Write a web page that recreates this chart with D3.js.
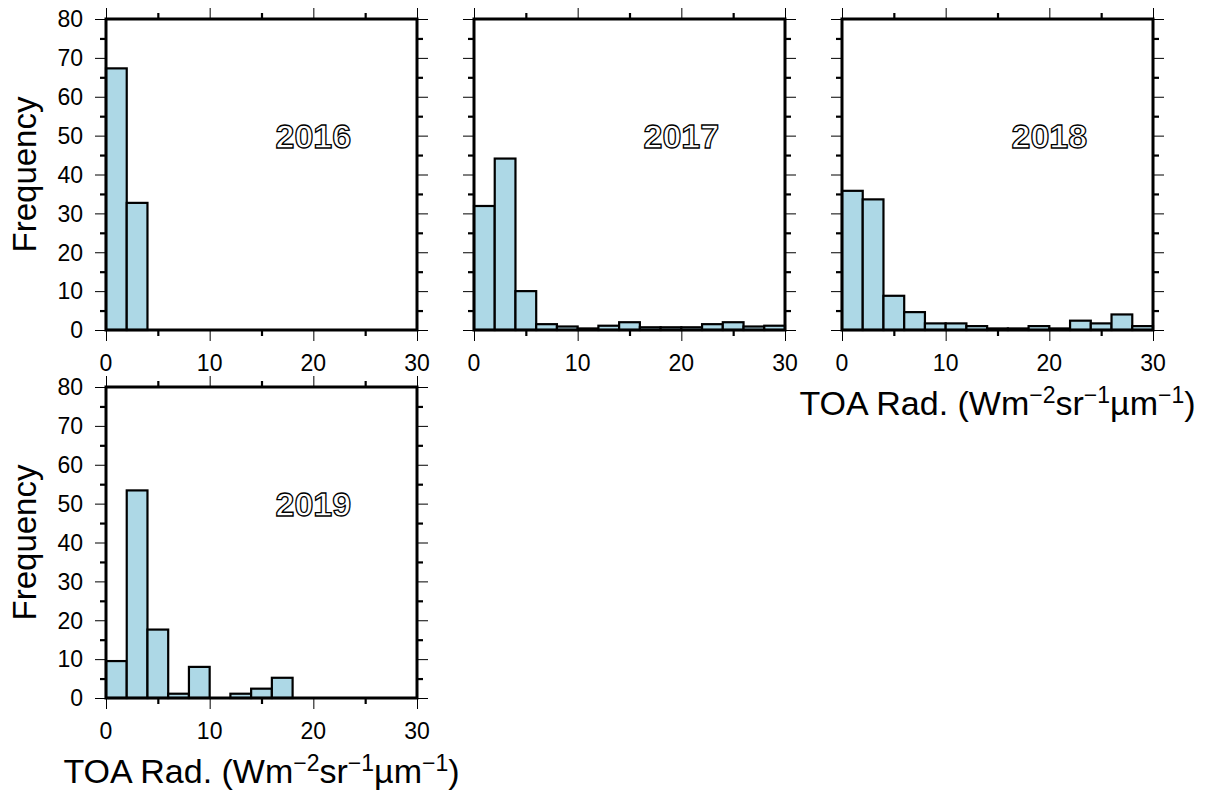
<!DOCTYPE html>
<html>
<head>
<meta charset="utf-8">
<script src="https://cdn.jsdelivr.net/npm/d3@7"></script>
<style>
  body { margin: 0; background: #fff; }
  svg { display: block; font-family: "Liberation Sans", Arial, sans-serif; }
</style>
</head>
<body>
<div id="chart"></div>
<script>
// histogram data (percent of pixels per 2-unit bin)
var years = ['2016', '2017', '2018', '2019']
var binStarts = [0, 2, 4, 6, 8, 10, 12, 14, 16, 18, 20, 22, 24, 26, 28]
var binWidth = 2
var freq2016 = [67.3, 32.7, 0, 0, 0, 0, 0, 0, 0, 0, 0, 0, 0, 0, 0]
var freq2017 = [31.9, 44.1, 10.0, 1.5, 0.9, 0.4, 1.1, 2.0, 0.7, 0.7, 0.7, 1.5, 2.0, 0.9, 1.1]
var freq2018 = [35.8, 33.6, 8.8, 4.6, 1.7, 1.7, 1.0, 0.4, 0.4, 1.0, 0.4, 2.4, 1.7, 4.0, 1.0]
var freq2019 = [9.5, 53.4, 17.6, 1.1, 8.0, 0, 1.1, 2.4, 5.2, 0, 0, 0, 0, 0, 0]
var series = [freq2016, freq2017, freq2018, freq2019]

var xMajor = [0, 10, 20, 30]
var xMinor = [5, 15, 25]
var yMajor = [0, 10, 20, 30, 40, 50, 60, 70, 80]
var yMinor = [5, 15, 25, 35, 45, 55, 65, 75]

// panel placement
var size = 311
var panels = [
    { left: 106, top: 19, yLabels: true },
    { left: 474, top: 19, yLabels: false },
    { left: 842, top: 19, yLabels: false, title: true },
    { left: 106, top: 387, yLabels: true, title: true }
]

var svg = d3.select('#chart').append('svg')
    .attr('width', 1208)
    .attr('height', 790)

var x = d3.scaleLinear().domain([0, 30]).range([0, size])
var y = d3.scaleLinear().domain([0, 80]).range([size, 0])

panels.forEach(function (p, i) {
    var g = svg.append('g').attr('transform', 'translate(' + p.left + ',' + p.top + ')')
    var data = binStarts.map(function (b, j) { return { x0: b, v: series[i][j] } })
        .filter(function (d) { return d.v > 0 })

    // bars
    g.selectAll('rect.bar')
        .data(data)
        .enter()
        .append('rect')
        .attr('class', 'bar')
        .attr('x', function (d) { return x(d.x0) })
        .attr('width', function (d) { return x(d.x0 + binWidth) - x(d.x0) })
        .attr('y', function (d) { return y(d.v) })
        .attr('height', function (d) { return y(0) - y(d.v) })
        .style('fill', '#add8e6')
        .style('stroke', '#000')
        .style('stroke-width', 2.2)

    // ticks on all four sides, major thin and long, minor short and thick
    function ticks(axis, vals, len, w, tr) {
        var a = g.append('g').attr('transform', tr)
            .call(axis.tickValues(vals).tickSize(len).tickSizeOuter(0).tickFormat(''))
        a.select('.domain').remove()
        a.selectAll('line').style('stroke-width', w)
    }
    ticks(d3.axisLeft(y), yMajor, 11, 1, 'translate(0,0)')
    ticks(d3.axisLeft(y), yMinor, 6, 2.2, 'translate(0,0)')
    ticks(d3.axisRight(y), yMajor, 11, 1, 'translate(' + size + ',0)')
    ticks(d3.axisRight(y), yMinor, 6, 2.2, 'translate(' + size + ',0)')
    ticks(d3.axisBottom(x), xMajor, 11, 1, 'translate(0,' + size + ')')
    ticks(d3.axisBottom(x), xMinor, 6, 2.2, 'translate(0,' + size + ')')
    ticks(d3.axisTop(x), xMajor, 11, 1, 'translate(0,0)')
    ticks(d3.axisTop(x), xMinor, 6, 2.2, 'translate(0,0)')

    // frame
    g.append('rect')
        .attr('width', size)
        .attr('height', size)
        .style('fill', 'none')
        .style('stroke', '#000')
        .style('stroke-width', 3)

    // x tick labels
    g.selectAll('text.xl')
        .data(xMajor)
        .enter()
        .append('text')
        .attr('x', function (d) { return x(d) })
        .attr('y', size + 41)
        .attr('text-anchor', 'middle')
        .style('font-size', '23px')
        .text(function (d) { return d })

    if (p.yLabels) {
        g.selectAll('text.yl')
            .data(yMajor)
            .enter()
            .append('text')
            .attr('x', -23)
            .attr('y', function (d) { return y(d) })
            .attr('dy', '0.36em')
            .attr('text-anchor', 'end')
            .style('font-size', '23px')
            .text(function (d) { return d })

        g.append('text')
            .attr('transform', 'translate(' + (-70) + ',' + (size / 2) + ') rotate(-90)')
            .attr('text-anchor', 'middle')
            .style('font-size', '33px')
            .text('Frequency')
    }

    if (p.title) {
        var t = g.append('text')
            .attr('x', size / 2)
            .attr('y', size + 85)
            .attr('text-anchor', 'middle')
            .style('font-size', '34px')
        t.append('tspan').text('TOA Rad. (Wm')
        t.append('tspan').attr('dy', -12).style('font-size', '23px').text('\u22122')
        t.append('tspan').attr('dy', 12).text('sr')
        t.append('tspan').attr('dy', -12).style('font-size', '23px').text('\u22121')
        t.append('tspan').attr('dy', 12).text('\u00b5m')
        t.append('tspan').attr('dy', -12).style('font-size', '23px').text('\u22121')
        t.append('tspan').attr('dy', 12).text(')')
    }

    // outlined year label
    g.append('text')
        .attr('x', x(20))
        .attr('y', y(50))
        .attr('dy', '0.36em')
        .attr('text-anchor', 'middle')
        .style('font-size', '34px')
        .style('font-weight', 'bold')
        .style('fill', '#fff')
        .style('stroke', '#000')
        .style('stroke-width', 1.3)
        .text(years[i])
})
</script>
</body>
</html>
